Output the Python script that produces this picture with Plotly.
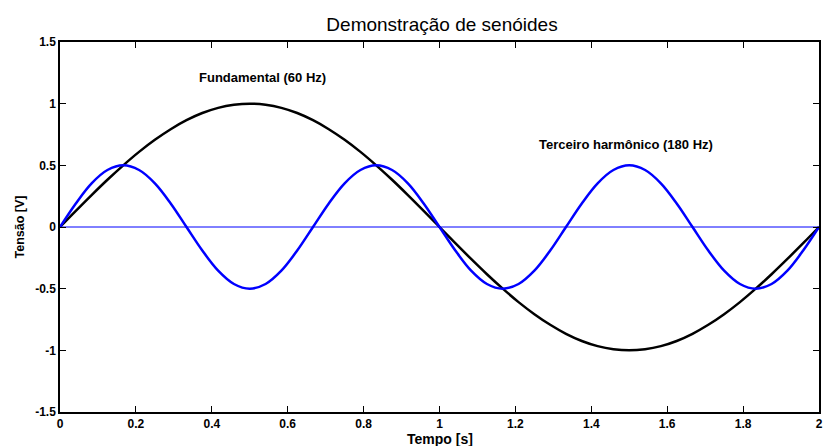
import plotly.graph_objects as go

# Sample times (s) and the two signals read at those instants
tempo = [0.0, 0.0417, 0.0833, 0.125, 0.1667, 0.2083, 0.25, 0.2917, 0.3333, 0.375,
         0.4167, 0.4583, 0.5, 0.5417, 0.5833, 0.625, 0.6667, 0.7083, 0.75, 0.7917,
         0.8333, 0.875, 0.9167, 0.9583, 1.0, 1.0417, 1.0833, 1.125, 1.1667, 1.2083,
         1.25, 1.2917, 1.3333, 1.375, 1.4167, 1.4583, 1.5, 1.5417, 1.5833, 1.625,
         1.6667, 1.7083, 1.75, 1.7917, 1.8333, 1.875, 1.9167, 1.9583, 2.0]

fundamental = [0.0, 0.131, 0.259, 0.383, 0.5, 0.609, 0.707, 0.793, 0.866, 0.924,
               0.966, 0.991, 1.0, 0.991, 0.966, 0.924, 0.866, 0.793, 0.707, 0.609,
               0.5, 0.383, 0.259, 0.131, 0.0, -0.131, -0.259, -0.383, -0.5, -0.609,
               -0.707, -0.793, -0.866, -0.924, -0.966, -0.991, -1.0, -0.991, -0.966, -0.924,
               -0.866, -0.793, -0.707, -0.609, -0.5, -0.383, -0.259, -0.131, 0.0]

terceiro = [0.0, 0.191, 0.354, 0.462, 0.5, 0.462, 0.354, 0.191, 0.0, -0.191,
            -0.354, -0.462, -0.5, -0.462, -0.354, -0.191, 0.0, 0.191, 0.354, 0.462,
            0.5, 0.462, 0.354, 0.191, 0.0, -0.191, -0.354, -0.462, -0.5, -0.462,
            -0.354, -0.191, 0.0, 0.191, 0.354, 0.462, 0.5, 0.462, 0.354, 0.191,
            0.0, -0.191, -0.354, -0.462, -0.5, -0.462, -0.354, -0.191, 0.0]

x_ticks = [0, 0.2, 0.4, 0.6, 0.8, 1.0, 1.2, 1.4, 1.6, 1.8, 2.0]
x_tick_text = ["0", "0.2", "0.4", "0.6", "0.8", "1", "1.2", "1.4", "1.6", "1.8", "2"]
y_ticks = [-1.5, -1, -0.5, 0, 0.5, 1, 1.5]
y_tick_text = ["-1.5", "-1", "-0.5", "0", "0.5", "1", "1.5"]

FONT = "Liberation Sans, Arial, sans-serif"

fig = go.Figure()
fig.add_trace(go.Scatter(x=[0, 2], y=[0, 0], mode="lines",
                         line=dict(color="#0000FF", width=1), hoverinfo="skip"))
fig.add_trace(go.Scatter(x=tempo, y=fundamental, mode="lines",
                         line=dict(color="black", width=2.5, shape="spline")))
fig.add_trace(go.Scatter(x=tempo, y=terceiro, mode="lines",
                         line=dict(color="#0000FF", width=2.5, shape="spline")))

fig.add_annotation(x=0.36, y=1.21, text="Fundamental (60 Hz)", showarrow=False,
                   xanchor="left", yanchor="middle",
                   font=dict(family=FONT, size=13, color="black", weight="bold"))
fig.add_annotation(x=1.258, y=0.665, text="Terceiro harmônico (180 Hz)", showarrow=False,
                   xanchor="left", yanchor="middle",
                   font=dict(family=FONT, size=13, color="black", weight="bold"))

# x-axis title, set just under the tick labels at the page's lower edge
fig.add_annotation(x=0.5, xref="paper", y=0, yref="paper", yshift=-27,
                   text="Tempo [s]", showarrow=False,
                   xanchor="center", yanchor="middle",
                   font=dict(family=FONT, size=14, color="black", weight="bold"))

axis_common = dict(showgrid=False, zeroline=False, showline=True, linecolor="black",
                   linewidth=1.5, mirror="ticks", ticks="inside", ticklen=6,
                   tickcolor="black", tickwidth=1, ticklabeloverflow="allow",
                   tickfont=dict(family=FONT, size=12, color="black", weight="bold"))

fig.update_layout(
    width=824, height=446,
    margin=dict(l=60, r=1, t=42, b=34),
    paper_bgcolor="white", plot_bgcolor="white",
    showlegend=False,
    title=dict(text="Demonstração de senóides", x=442 / 824, xanchor="center",
               y=1 - 24 / 446, yanchor="middle",
               font=dict(family=FONT, size=19, color="black")),
    xaxis=dict(range=[0, 2], tickvals=x_ticks, ticktext=x_tick_text, **axis_common),
    yaxis=dict(range=[-1.5, 1.5], tickvals=y_ticks, ticktext=y_tick_text,
               title=dict(text="Tensão [V]", standoff=8,
                          font=dict(family=FONT, size=12.5, color="black", weight="bold")),
               **axis_common),
)

fig.write_html("out.html")
